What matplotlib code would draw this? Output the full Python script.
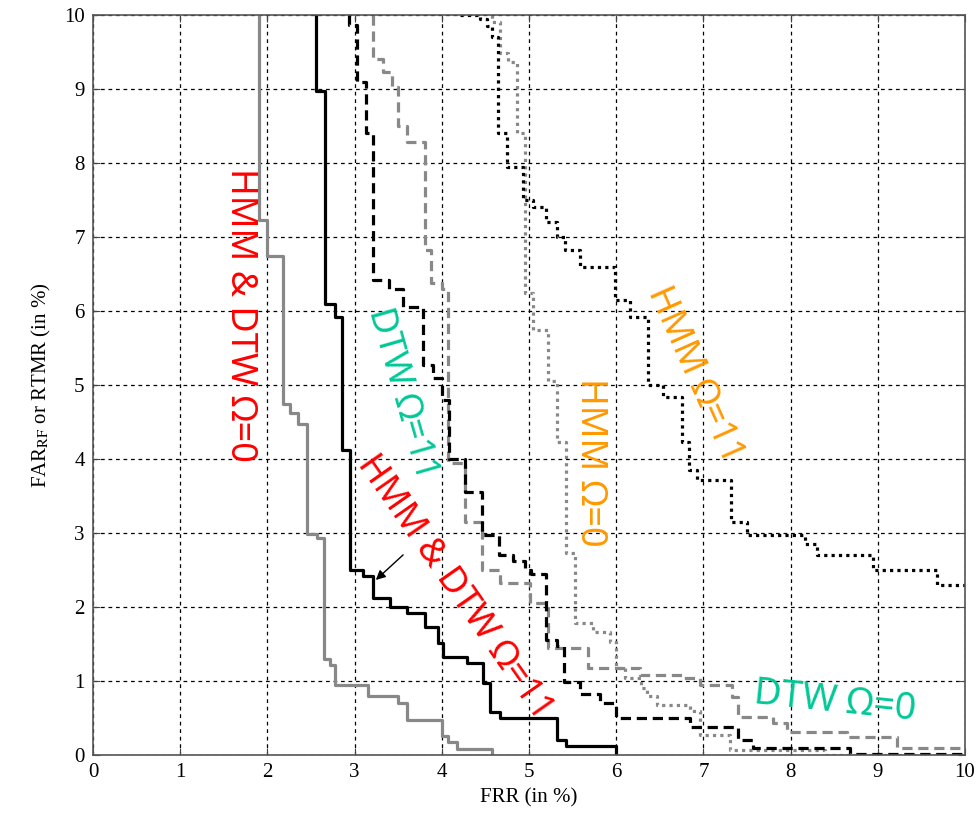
#!/usr/bin/env python3
"""FAR/RTMR vs FRR staircase curves for HMM and DTW fusion, Omega = 0 and 11."""

import matplotlib

matplotlib.use("Agg")
import matplotlib.pyplot as plt

# --- data (FRR in %, FAR in %), staircase knees ---
hd0_frr = [1.90, 2.00, 2.18, 2.26, 2.35, 2.45, 2.57, 2.65, 2.72, 2.78, 3.15, 3.50,
           3.60, 4.00, 4.07, 4.17, 4.58, 4.58]
hd0_far = [10.0, 7.23, 6.74, 4.75, 4.62, 4.47, 2.98, 2.93, 1.30, 1.22, 0.95, 0.80,
           0.70, 0.47, 0.26, 0.18, 0.08, 0.0]

hd11_frr = [2.56, 2.66, 2.77, 2.86, 2.95, 3.10, 3.21, 3.41, 3.60, 3.81, 3.96, 4.01,
            4.29, 4.47, 4.55, 4.67, 5.32, 5.43, 6.00, 6.00]
hd11_far = [10.0, 8.97, 6.10, 5.92, 4.12, 2.50, 2.42, 2.12, 2.00, 1.92, 1.73, 1.51,
            1.33, 1.24, 0.97, 0.58, 0.50, 0.20, 0.12, 0.0]

dtw11_frr = [2.94, 3.03, 3.13, 3.21, 3.40, 3.55, 3.79, 3.90, 4.00, 4.08, 4.27, 4.46,
             4.66, 4.82, 4.95, 5.02, 5.20, 5.32, 5.40, 5.58, 5.81, 6.00, 6.85, 7.40,
             7.57, 8.68, 10.0]
dtw11_far = [10.0, 9.86, 9.10, 8.40, 6.42, 6.30, 6.05, 5.27, 5.10, 4.80, 4.00, 3.55,
             2.97, 2.70, 2.62, 2.50, 2.45, 1.55, 1.47, 0.98, 0.83, 0.70, 0.50, 0.38,
             0.20, 0.10, 0.02]

dtw0_frr = [3.21, 3.33, 3.43, 3.50, 3.60, 3.81, 3.88, 4.00, 4.07, 4.27, 4.46, 4.67,
            5.01, 5.22, 5.68, 6.27, 6.77, 6.96, 7.33, 7.40, 7.80, 7.96, 8.65, 9.22,
            10.0]
dtw0_far = [10.0, 9.40, 9.23, 9.03, 8.50, 8.28, 6.82, 6.38, 6.30, 3.95, 3.15, 2.50,
            2.32, 2.05, 1.44, 1.18, 1.08, 1.04, 0.95, 0.79, 0.51, 0.43, 0.31, 0.24,
            0.09]

hmm0_frr = [4.58, 4.67, 4.76, 4.86, 4.95, 5.05, 5.22, 5.32, 5.43, 5.53, 5.73, 5.93,
            6.00, 6.10, 6.29, 6.35, 6.47, 6.85, 6.96, 7.30, 8.40, 10.0]
hmm0_far = [10.0, 9.90, 9.49, 9.37, 8.40, 6.24, 5.74, 5.05, 4.23, 2.73, 1.78, 1.66,
            1.53, 1.18, 1.04, 0.90, 0.80, 0.68, 0.60, 0.27, 0.07, 0.0]

hmm11_frr = [4.21, 4.44, 4.52, 4.58, 4.65, 4.75, 4.93, 5.05, 5.20, 5.32, 5.41, 5.58,
             5.99, 6.16, 6.37, 6.54, 6.75, 6.83, 6.93, 7.32, 7.50, 8.17, 8.30, 8.95,
             9.68, 10.0]
hmm11_far = [10.0, 10.0, 9.95, 9.85, 9.70, 8.40, 7.95, 7.50, 7.40, 7.20, 7.00, 6.82,
             6.60, 6.15, 5.92, 5.00, 4.84, 4.23, 3.85, 3.72, 3.15, 2.97, 2.85, 2.70,
             2.50, 2.30]

ticks = list(range(0, 11))

RED = "#ff0000"
TEAL = "#00c896"
ORANGE = "#ff9900"
GRAY = "#888888"
LABEL_FONT = ["Noto Sans", "DejaVu Sans"]


def draw_curves(ax):
    lw = 2.3
    ax.plot(hd0_frr, hd0_far, drawstyle="steps-pre", color=GRAY, lw=lw)
    ax.plot(dtw0_frr, dtw0_far, drawstyle="steps-pre", color=GRAY, lw=lw,
            linestyle=(0, (3.2, 1.8)))
    ax.plot(hmm0_frr, hmm0_far, drawstyle="steps-pre", color=GRAY, lw=lw,
            linestyle=(0, (1.0, 1.3)))
    ax.plot(hd11_frr, hd11_far, drawstyle="steps-pre", color="black", lw=lw)
    ax.plot(dtw11_frr, dtw11_far, drawstyle="steps-pre", color="black", lw=lw,
            linestyle=(0, (3.2, 1.8)))
    ax.plot(hmm11_frr, hmm11_far, drawstyle="steps-pre", color="black", lw=lw,
            linestyle=(0, (1.0, 1.3)))


def draw_labels(ax):
    kw = dict(ha="center", va="center", family=LABEL_FONT,
              style="normal", weight="normal", rotation_mode="anchor")
    ax.text(1.69, 5.95, "HMM & DTW \u03a9=0", color=RED, rotation=-90, fontsize=26, **kw)
    ax.text(3.54, 4.88, "DTW \u03a9=11", color=TEAL, rotation=-74, fontsize=26, **kw)
    ax.text(4.15, 2.26, "HMM & DTW \u03a9=11", color=RED, rotation=-55, fontsize=26, **kw)
    ax.text(5.70, 3.96, "HMM \u03a9=0", color=ORANGE, rotation=-90, fontsize=26, **kw)
    ax.text(6.90, 5.14, "HMM \u03a9=11", color=ORANGE, rotation=-66, fontsize=26, **kw)
    ax.text(8.51, 0.72, "DTW \u03a9=0", color=TEAL, rotation=-6, fontsize=27, **kw)
    ax.annotate("", xy=(3.22, 2.34), xytext=(3.58, 2.73),
                arrowprops=dict(arrowstyle="-|>", color="black", lw=1.0,
                                mutation_scale=14))


def main():
    plt.rcParams["mathtext.fontset"] = "stix"
    fig = plt.figure(figsize=(9.76, 8.15), dpi=100)
    ax = fig.add_axes([0.0953, 0.0736, 0.8934, 0.908])

    ax.set_xlim(0, 10)
    ax.set_ylim(0, 10)
    ax.set_xticks(ticks)
    ax.set_yticks(ticks)
    ax.grid(True, color="black", linestyle=(0, (3, 3)), linewidth=0.9)
    ax.tick_params(direction="in", length=5, top=True, right=True,
                   labelsize=15, pad=6, color="#444444")
    for label in ax.get_xticklabels() + ax.get_yticklabels():
        label.set_family("Liberation Serif")
    for spine in ax.spines.values():
        spine.set_color("#555555")
        spine.set_linewidth(1.2)

    draw_curves(ax)
    draw_labels(ax)

    ax.set_xlabel("FRR (in %)", family="Liberation Serif", fontsize=15, labelpad=4)
    ax.set_ylabel(r"FAR$_{\mathrm{RF}}$ or RTMR (in %)", family="Liberation Serif",
                  fontsize=15, labelpad=8)

    fig.savefig("out.png", dpi=100)
    plt.close(fig)


if __name__ == "__main__":
    main()
